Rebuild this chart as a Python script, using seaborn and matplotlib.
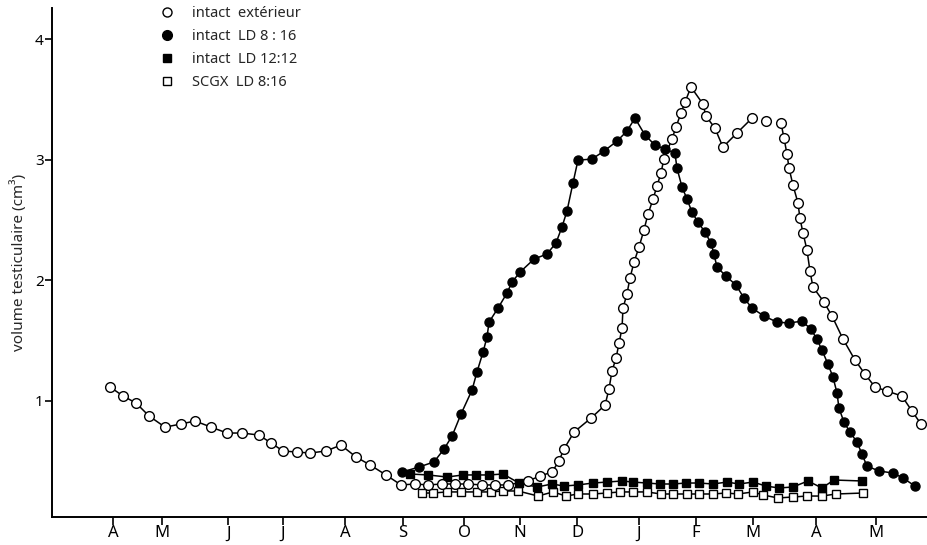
import matplotlib
matplotlib.use("Agg")
import matplotlib.pyplot as plt
import numpy as np
import pandas as pd
import seaborn as sns
from matplotlib.lines import Line2D

# Month ticks (x axis in weeks from the first April sample)
month_labels = ["A", "M", "J", "J", "A", "S", "O", "N", "D", "J", "F", "M", "A", "M"]
month_ticks = [0.0, 3.60, 8.46, 12.50, 17.06, 21.32, 25.81, 29.93, 34.12,
               38.68, 42.87, 47.06, 51.69, 56.10]

# intact, outdoor conditions (open circles)
ext_weeks = [-0.22, 0.74, 1.69, 2.65, 3.82, 5.00, 6.03, 7.21, 8.38, 9.49,
             10.74, 11.62, 12.50, 13.53, 14.49, 15.66, 16.76, 17.87, 18.90, 20.07,
             21.18, 22.21, 23.16, 24.19, 25.15, 26.10, 27.13, 28.09, 29.04, 30.51,
             31.40, 32.28, 32.79, 33.16, 33.90, 35.15, 36.18, 36.47, 36.69, 36.99,
             37.21, 37.43, 37.50, 37.79, 38.01, 38.31, 38.68, 39.04, 39.34, 39.71,
             40.00, 40.29, 40.51, 41.10, 41.40, 41.76, 42.06, 42.50, 43.38, 43.60,
             44.26, 44.85, 45.88, 46.99, 48.01, 49.12, 49.34, 49.56, 49.71, 50.00,
             50.37, 50.51, 50.74, 51.03, 51.25, 51.47, 52.28, 52.87, 53.68, 54.56,
             55.29, 56.03, 56.91, 58.01, 58.75, 59.41]
ext_vol = [1.114, 1.039, 0.981, 0.873, 0.781, 0.807, 0.832, 0.781, 0.732, 0.732,
           0.715, 0.649, 0.583, 0.574, 0.566, 0.583, 0.632, 0.533, 0.467, 0.384,
           0.301, 0.309, 0.301, 0.309, 0.309, 0.309, 0.301, 0.301, 0.301, 0.334,
           0.375, 0.408, 0.500, 0.599, 0.740, 0.856, 0.964, 1.097, 1.246, 1.354,
           1.479, 1.603, 1.769, 1.885, 2.017, 2.150, 2.276, 2.417, 2.549, 2.674,
           2.782, 2.890, 3.006, 3.172, 3.272, 3.388, 3.479, 3.604, 3.463, 3.363,
           3.263, 3.105, 3.222, 3.346, 3.321, 3.305, 3.180, 3.047, 2.931, 2.790,
           2.641, 2.516, 2.392, 2.251, 2.077, 1.944, 1.819, 1.703, 1.512, 1.338,
           1.222, 1.114, 1.081, 1.039, 0.915, 0.807]
# indices where the connecting line is interrupted (a new segment starts)
ext_breaks = [64, 65]

# intact, LD 8:16 (filled circles)
ld816_weeks = [21.25, 22.50, 23.60, 24.34, 24.93, 25.59, 26.40, 26.76, 27.21, 27.50,
               27.65, 28.31, 28.97, 29.34, 29.93, 30.96, 31.91, 32.57, 33.01, 33.38,
               33.82, 34.19, 35.22, 36.10, 37.06, 37.79, 38.38, 39.12, 39.85, 40.59,
               41.32, 41.47, 41.84, 42.21, 42.57, 43.01, 43.53, 43.97, 44.19, 44.41,
               45.07, 45.81, 46.40, 46.99, 47.87, 48.82, 49.71, 50.66, 51.32, 51.76,
               52.13, 52.57, 52.94, 53.24, 53.38, 53.75, 54.19, 54.71, 55.07, 55.44,
               56.32, 57.35, 58.09, 58.97]
ld816_vol = [0.408, 0.450, 0.492, 0.599, 0.707, 0.890, 1.089, 1.238, 1.404, 1.529,
             1.653, 1.769, 1.894, 1.985, 2.068, 2.176, 2.218, 2.309, 2.441, 2.574,
             2.806, 2.997, 3.006, 3.072, 3.155, 3.238, 3.346, 3.205, 3.122, 3.089,
             3.056, 2.931, 2.774, 2.674, 2.566, 2.483, 2.400, 2.309, 2.218, 2.110,
             2.035, 1.960, 1.852, 1.769, 1.703, 1.653, 1.645, 1.661, 1.595, 1.512,
             1.421, 1.305, 1.197, 1.064, 0.940, 0.823, 0.740, 0.657, 0.558, 0.458,
             0.417, 0.400, 0.359, 0.292]

# intact, LD 12:12 (filled squares)
ld1212_weeks = [21.84, 23.16, 24.56, 25.74, 26.69, 27.65, 28.68, 29.85, 31.18, 32.28,
                33.16, 34.19, 35.29, 36.32, 37.43, 38.24, 39.26, 40.22, 41.18, 42.13,
                43.09, 44.12, 45.15, 46.03, 47.06, 48.01, 48.97, 50.00, 51.10, 52.13,
                53.01, 55.07]
ld1212_vol = [0.392, 0.384, 0.367, 0.384, 0.384, 0.384, 0.392, 0.317, 0.284, 0.309,
              0.292, 0.301, 0.317, 0.325, 0.334, 0.325, 0.317, 0.309, 0.309, 0.317,
              0.317, 0.309, 0.325, 0.309, 0.325, 0.292, 0.276, 0.284, 0.334, 0.276,
              0.342, 0.334]

# SCGX, LD 8:16 (open squares)
scgx_weeks = [22.72, 23.53, 24.56, 25.59, 26.76, 27.79, 28.68, 29.78, 31.25, 32.35,
              33.31, 34.19, 35.29, 36.32, 37.28, 38.24, 39.26, 40.29, 41.18, 42.21,
              43.09, 44.12, 45.07, 45.96, 47.06, 47.79, 48.90, 50.00, 51.03, 52.13,
              53.16, 55.15]
scgx_vol = [0.234, 0.234, 0.243, 0.243, 0.243, 0.243, 0.251, 0.251, 0.209, 0.243,
            0.209, 0.226, 0.226, 0.234, 0.243, 0.243, 0.243, 0.226, 0.226, 0.226,
            0.226, 0.226, 0.234, 0.226, 0.243, 0.218, 0.193, 0.201, 0.209, 0.209,
            0.226, 0.234]

legend_labels = ["intact  extérieur", "intact  LD 8 : 16", "intact  LD 12:12", "SCGX  LD 8:16"]

sns.set_theme(style="white")
plt.rcParams["font.family"] = ["Noto Sans", "DejaVu Sans"]

ext_seg = np.searchsorted(np.array(ext_breaks), np.arange(len(ext_weeks)), side="right")
df_ext = pd.DataFrame({"week": ext_weeks, "vol": ext_vol, "seg": ext_seg})
df_816 = pd.DataFrame({"week": ld816_weeks, "vol": ld816_vol})
df_1212 = pd.DataFrame({"week": ld1212_weeks, "vol": ld1212_vol})
df_scgx = pd.DataFrame({"week": scgx_weeks, "vol": scgx_vol})

fig = plt.figure(figsize=(9.28, 5.45), dpi=100)
ax = fig.add_axes([52 / 928, 28 / 545, 876 / 928, 509 / 545])

line_kw = dict(color="black", linewidth=1.1, estimator=None, sort=False,
               legend=False, ax=ax, markeredgecolor="black", markeredgewidth=1.0)

sns.lineplot(data=df_scgx, x="week", y="vol", marker="s", markersize=5.5,
             markerfacecolor="white", zorder=2, **line_kw)
sns.lineplot(data=df_1212, x="week", y="vol", marker="s", markersize=5.5,
             markerfacecolor="black", zorder=3, **line_kw)
sns.lineplot(data=df_ext, x="week", y="vol", units="seg", marker="o", markersize=7,
             markerfacecolor="white", zorder=4, **line_kw)
sns.lineplot(data=df_816, x="week", y="vol", marker="o", markersize=6.5,
             markerfacecolor="black", zorder=5, **line_kw)

ax.set_xlim(-4.49, 59.93)
ax.set_ylim(0.035, 4.26)
ax.set_xticks(month_ticks)
ax.set_xticklabels(month_labels)
ax.set_yticks([1, 2, 3, 4])
ax.set_yticklabels(["1", "2", "3", "4"])
ax.set_xlabel("")
ax.set_ylabel("volume testiculaire (cm³)", fontsize=11, labelpad=6)

for side in ("top", "right"):
    ax.spines[side].set_visible(False)
for side in ("left", "bottom"):
    ax.spines[side].set_color("black")
    ax.spines[side].set_linewidth(1.4)

ax.tick_params(axis="x", direction="out", length=6, width=1.2, pad=0,
               labelsize=12, colors="black", bottom=True)
ax.tick_params(axis="y", direction="out", length=5, width=1.2, pad=1,
               labelsize=11, colors="black", left=True)

handles = [
    Line2D([], [], linestyle="none", marker="o", markersize=6.5,
           markerfacecolor="white", markeredgecolor="black", markeredgewidth=1.0),
    Line2D([], [], linestyle="none", marker="o", markersize=7,
           markerfacecolor="black", markeredgecolor="black"),
    Line2D([], [], linestyle="none", marker="s", markersize=6,
           markerfacecolor="black", markeredgecolor="black"),
    Line2D([], [], linestyle="none", marker="s", markersize=6,
           markerfacecolor="white", markeredgecolor="black", markeredgewidth=1.0),
]
fig.legend(handles, legend_labels, loc="upper left",
           bbox_to_anchor=(150 / 928, 1.007), frameon=False, fontsize=10.5,
           handlelength=1.0, handletextpad=1.2, labelspacing=0.55,
           borderpad=0.2)

fig.savefig("out.png", dpi=100, facecolor="white")
